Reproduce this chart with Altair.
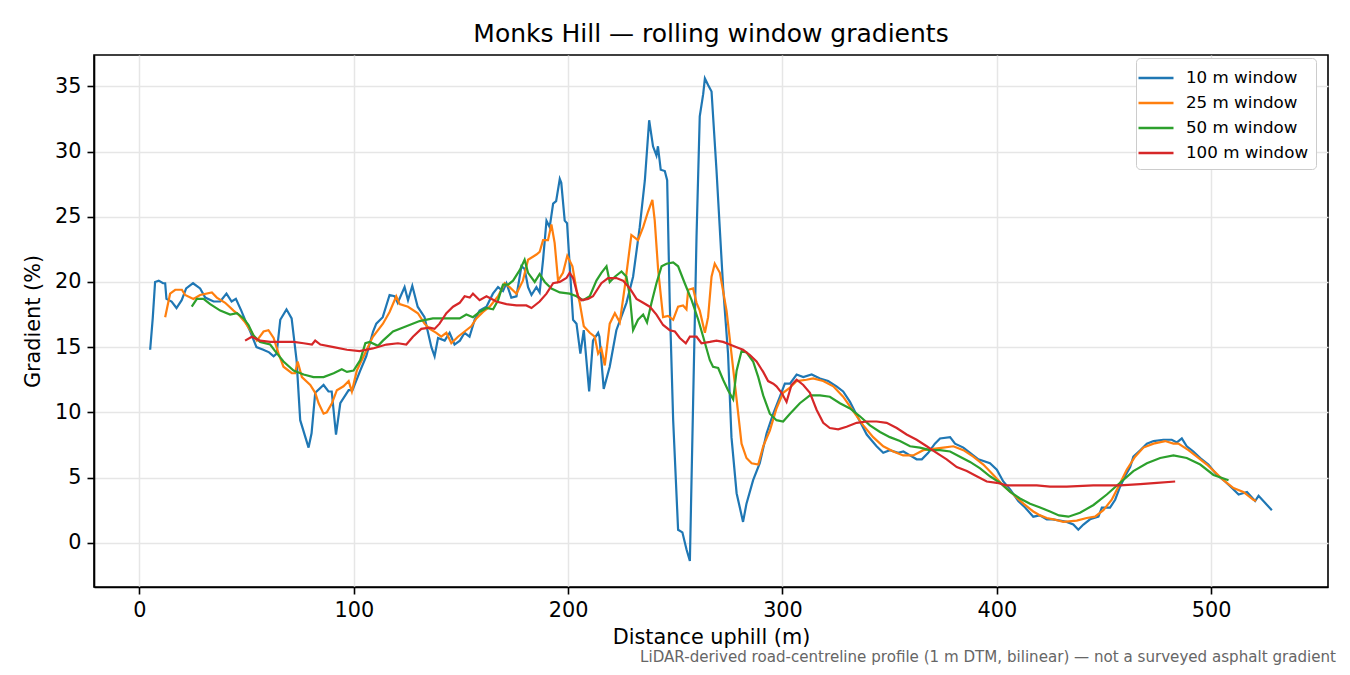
import altair as alt
import pandas as pd

# 10 m window
x10 = [5.0, 6.2, 7.3, 9.0, 11.0, 12.0, 12.6, 15.0, 17.3, 19.7, 21.8, 25.0, 28.3, 30.7, 34.6, 37.7,
       40.6, 43.0, 45.0, 47.5, 50.0, 51.7, 54.6, 57.8, 60.5, 62.6, 64.0, 65.7, 68.6, 71.0, 73.3, 75.0,
       78.9, 80.3, 82.0, 85.9, 88.2, 89.7, 91.7, 93.7, 97.6, 99.4, 103.0, 105.8, 109.0, 110.5, 113.5,
       116.7, 119.0, 120.5, 123.7, 125.3, 127.3, 129.8, 133.0, 136.2, 137.7, 139.3, 142.4, 144.7, 147.0,
       149.5, 151.7, 154.0, 156.4, 158.7, 161.9, 164.9, 167.3, 169.6, 171.2, 173.5, 175.9, 178.2, 179.7,
       181.3, 182.9, 185.2, 186.7, 188.3, 189.9, 191.4, 193.0, 194.4, 196.1, 196.8, 198.4, 199.5, 202.3,
       203.9, 205.7, 207.3, 209.8, 211.6, 214.0, 214.6, 216.6, 219.4, 222.5, 227.2, 230.3, 233.4, 235.8,
       237.8, 239.6, 241.2, 241.9, 243.2, 245.1, 246.2, 247.4, 249.0, 251.3, 253.3, 255.2, 256.8, 258.3,
       259.9, 261.4, 263.0, 263.8, 265.3, 266.9, 269.2, 272.3, 274.6, 276.2, 278.6, 281.6, 283.2, 286.3,
       289.4, 292.6, 295.7, 298.8, 301.1, 303.5, 306.6, 309.7, 313.6, 317.5, 321.3, 325.2, 328.3, 331.5,
       334.6, 339.3, 343.9, 347.0, 350.1, 354.0, 356.4, 359.5, 362.6, 365.0, 368.0, 371.1, 373.5, 378.2,
       380.5, 384.4, 387.5, 391.4, 396.8, 400.0, 403.0, 406.2, 410.0, 413.2, 417.0, 420.0, 423.3, 426.0,
       429.5, 432.6, 435.7, 438.0, 440.4, 443.5, 447.4, 449.0, 452.8, 455.2, 457.5, 459.8, 462.2, 463.7,
       466.9, 470.0, 473.1, 477.7, 481.6, 484.0, 486.3, 488.6, 491.7, 494.9, 498.7, 502.7, 506.5, 509.7,
       512.8, 516.7, 520.5, 522.1, 528.3]
y10 = [14.8, 17.2, 20.0, 20.1, 19.9, 19.9, 18.7, 18.5, 18.0, 18.6, 19.5, 19.9, 19.5, 18.8, 18.5, 18.5,
       19.1, 18.5, 18.7, 17.8, 16.8, 16.2, 15.0, 14.8, 14.6, 14.3, 14.5, 17.1, 17.9, 17.2, 14.0, 9.4,
       7.3, 8.4, 11.5, 12.1, 11.6, 11.6, 8.3, 10.7, 11.7, 11.7, 13.2, 14.3, 16.2, 16.8, 17.3,
       19.0, 18.9, 18.4, 19.6, 18.6, 19.7, 18.1, 17.3, 15.0, 14.3, 15.7, 15.5, 16.1, 15.2,
       15.5, 16.1, 15.8, 17.1, 17.8, 18.1, 19.1, 19.6, 19.3, 19.9, 18.8, 18.9, 21.2, 21.0,
       19.6, 19.0, 19.6, 19.2, 21.7, 24.7, 24.2, 26.0, 26.2, 27.9, 27.6, 24.7, 24.5, 17.1,
       16.8, 14.5, 16.3, 11.6, 15.5, 16.1, 15.8, 11.8, 13.5, 16.3, 18.4, 20.4, 24.2, 27.8,
       32.4, 30.4, 29.7, 30.4, 28.6, 28.5, 27.8, 18.4, 9.4, 1.0, 0.8, -0.5, -1.4, 10.7,
       23.5, 32.7, 34.4, 35.6, 35.1, 34.6, 28.6, 19.6, 14.5, 8.1, 3.8, 1.6, 3.0, 4.8,
       6.1, 8.4, 9.9, 11.2, 12.2, 12.2, 12.9, 12.7, 12.9, 12.6, 12.4, 12.0, 11.6, 10.8,
       9.8, 8.3, 7.4, 6.9, 7.1, 6.9, 7.0, 6.7, 6.4, 6.4, 6.9, 7.6, 8.0, 8.1,
       7.6, 7.3, 6.9, 6.4, 6.1, 5.6, 4.7, 4.1, 3.2, 2.7, 2.0, 2.1, 1.8, 1.8,
       1.7, 1.6, 1.4, 1.0, 1.4, 1.8, 2.0, 2.7, 2.7, 3.3, 4.3, 5.1, 5.8, 6.6,
       7.1, 7.6, 7.8, 7.9, 7.9, 7.7, 8.0, 7.4, 7.0, 6.5, 6.0, 5.2, 4.7, 4.2,
       3.7, 3.9, 3.2, 3.6, 2.5]

# 25 m window
x25 = [12.0, 14.3, 16.7, 19.8, 21.3, 25.2, 28.3, 33.8, 36.1, 40.0, 43.9, 46.2, 49.3, 51.7, 54.8, 57.9,
       60.2, 62.6, 64.9, 67.2, 71.1, 72.6, 73.8, 75.8, 79.7, 82.0, 83.6, 85.9, 87.4, 89.8, 92.1, 95.2,
       97.6, 99.1, 101.4, 104.6, 107.7, 108.9, 113.6, 116.7, 119.8, 121.4, 125.3, 129.9, 133.0, 135.4,
       138.5, 140.8, 143.2, 145.5, 148.6, 151.7, 154.8, 157.2, 160.3, 163.4, 167.3, 170.4, 172.7, 175.9,
       178.9, 181.3, 185.2, 186.7, 188.3, 190.6, 192.2, 193.7, 195.3, 197.6, 199.6, 202.0, 203.9, 205.4,
       207.3, 210.1, 212.4, 214.0, 215.5, 217.1, 219.4, 221.8, 224.1, 226.4, 229.5, 232.6, 235.0, 237.3,
       239.3, 240.4, 242.0, 244.3, 246.6, 249.0, 251.3, 253.6, 255.2, 256.0, 258.3, 259.9, 261.4, 263.8,
       265.3, 266.9, 268.4, 270.8, 273.9, 276.2, 278.6, 280.9, 283.2, 285.6, 288.7, 291.0, 294.1, 297.2,
       300.3, 303.5, 306.6, 311.2, 314.3, 319.0, 323.7, 328.3, 333.0, 337.7, 342.3, 347.0, 351.7, 356.3,
       361.0, 365.7, 370.4, 375.0, 379.7, 384.4, 389.0, 393.7, 398.4, 403.0, 407.7, 412.4, 417.0, 420.2,
       423.3, 426.4, 431.0, 437.3, 441.9, 445.8, 449.7, 453.6, 456.7, 460.6, 464.5, 468.4, 473.1, 478.5,
       482.4, 484.7, 489.4, 493.3, 498.0, 501.9, 505.7, 510.4, 515.0, 519.7, 521.0]
y25 = [17.3, 19.1, 19.4, 19.4, 19.0, 18.7, 19.0, 19.2, 18.8, 18.4, 17.8, 17.5, 16.9, 16.3, 15.5, 16.2,
       16.3, 15.7, 14.5, 13.5, 13.0, 13.0, 13.9, 12.7, 12.1, 11.5, 10.7, 9.9, 10.0, 10.7, 11.7, 12.0,
       12.4, 11.6, 13.2, 14.3, 15.4, 15.8, 16.8, 17.7, 18.9, 18.3, 18.1, 17.6, 16.8, 16.4,
       16.1, 15.8, 16.1, 15.3, 15.8, 16.2, 16.6, 17.2, 17.7, 18.1, 18.9, 19.9, 19.6, 19.1,
       20.1, 21.7, 22.1, 22.3, 23.2, 23.2, 24.4, 23.0, 20.1, 20.7, 22.0, 21.2, 19.4, 18.4,
       16.6, 16.1, 15.8, 14.5, 14.9, 13.6, 16.8, 17.6, 16.9, 19.6, 23.6, 23.2, 24.2, 25.4,
       26.3, 24.7, 20.9, 17.3, 17.4, 17.1, 18.1, 18.2, 17.9, 19.4, 19.5, 18.4, 17.8, 16.1,
       17.3, 20.4, 21.4, 20.7, 17.8, 14.5, 11.0, 7.6, 6.5, 6.1, 6.0, 7.4, 8.6, 10.3,
       11.5, 11.9, 12.4, 12.5, 12.6, 12.4, 12.0, 11.2, 10.1, 9.0, 8.1, 7.4, 7.0, 6.7,
       6.7, 7.1, 7.2, 7.3, 7.4, 7.1, 6.6, 6.0, 5.2, 4.4, 3.7, 3.0, 2.4, 2.1,
       1.9, 1.8, 1.6, 1.7, 1.9, 2.0, 2.5, 3.3, 4.3, 5.6, 6.6, 7.3, 7.6, 7.8,
       7.6, 7.6, 7.1, 6.6, 6.0, 5.4, 4.8, 4.2, 3.9, 3.3, 3.2]

# 50 m window
x50 = [24.4, 26.8, 29.9, 33.0, 37.7, 42.3, 45.5, 48.6, 50.9, 53.2, 56.3, 61.0, 63.3, 67.2, 71.9, 76.6,
       81.2, 85.9, 90.6, 94.4, 96.8, 99.9, 103.0, 105.4, 107.4, 111.3, 113.6, 118.3, 124.5, 130.7, 136.9,
       143.2, 149.4, 152.5, 155.6, 158.7, 161.9, 165.0, 167.3, 169.6, 172.0, 174.3, 177.4, 179.7, 181.3,
       184.4, 186.7, 189.1, 192.2, 196.1, 200.7, 203.9, 207.0, 210.1, 213.2, 215.5, 217.9, 219.4, 221.8,
       224.9, 227.2, 228.8, 230.3, 232.6, 235.0, 236.8, 238.9, 241.2, 243.6, 245.9, 249.0, 251.3, 254.4,
       257.6, 260.7, 263.0, 266.1, 267.6, 270.0, 272.3, 274.6, 277.0, 278.6, 280.9, 283.2, 286.3, 288.7,
       291.0, 294.1, 297.2, 300.3, 303.5, 308.1, 312.8, 317.5, 322.1, 326.8, 331.5, 336.1, 340.8, 345.5,
       350.1, 354.8, 359.5, 364.1, 368.8, 373.5, 378.2, 382.8, 387.5, 392.2, 396.8, 401.5, 406.2, 410.8,
       415.5, 420.2, 424.8, 429.0, 433.4, 438.8, 445.1, 451.3, 457.5, 463.7, 470.0, 476.2, 482.4, 488.6,
       494.9, 501.1, 508.1]
y50 = [18.1, 18.7, 18.7, 18.3, 17.8, 17.5, 17.6, 17.2, 16.7, 15.9, 15.4, 15.2, 14.7, 13.9, 13.2, 12.9,
       12.7, 12.7, 13.0, 13.3, 13.1, 13.2, 14.0, 15.3, 15.4, 15.1, 15.5, 16.2, 16.6, 17.0, 17.2,
       17.2, 17.2, 17.5, 17.3, 17.7, 18.0, 17.9, 18.6, 19.8, 19.8, 20.1, 20.9, 21.7, 20.7,
       20.0, 20.6, 20.0, 19.5, 19.2, 19.1, 18.9, 18.6, 18.9, 20.1, 20.7, 21.2, 20.0, 20.4,
       20.8, 20.4, 18.9, 16.3, 17.1, 17.5, 16.9, 18.4, 19.9, 21.2, 21.4, 21.5, 21.2, 19.9,
       18.6, 17.1, 15.8, 14.0, 13.5, 13.4, 12.5, 11.7, 11.0, 13.2, 14.7, 14.6, 13.9, 12.7,
       11.3, 9.9, 9.4, 9.3, 9.9, 10.7, 11.3, 11.3, 11.2, 10.7, 10.3, 9.7, 9.0, 8.5,
       8.1, 7.8, 7.4, 7.3, 7.1, 7.1, 7.0, 6.6, 6.2, 5.7, 5.1, 4.6, 3.9, 3.4,
       3.0, 2.7, 2.4, 2.1, 2.0, 2.3, 2.9, 3.7, 4.6, 5.5, 6.1, 6.5, 6.7, 6.5,
       6.0, 5.2, 4.8]

# 100 m window
x100 = [49.3, 52.4, 56.3, 61.0, 65.7, 71.9, 76.6, 80.5, 82.0, 84.4, 90.6, 96.8, 102.7, 108.9, 115.2,
        120.6, 124.5, 127.6, 131.5, 135.4, 137.7, 140.0, 143.2, 146.3, 149.4, 151.7, 154.1, 155.6, 158.7,
        161.9, 166.5, 171.2, 175.9, 180.5, 182.9, 186.7, 189.9, 193.0, 196.1, 199.2, 200.7, 202.3, 204.6,
        206.2, 209.3, 211.6, 215.5, 218.6, 222.5, 225.6, 228.8, 231.9, 235.0, 238.1, 241.2, 244.3, 247.4,
        249.8, 252.1, 254.9, 256.8, 259.9, 262.2, 266.1, 269.2, 272.3, 275.4, 278.6, 281.6, 284.8, 287.9,
        291.0, 293.3, 295.7, 297.2, 299.6, 301.9, 304.2, 306.6, 309.7, 312.8, 315.9, 319.0, 322.1, 326.0,
        329.9, 334.6, 339.3, 343.9, 348.6, 353.3, 357.9, 362.6, 367.3, 371.9, 376.6, 381.3, 386.0, 390.6,
        395.3, 400.0, 404.6, 410.8, 418.6, 424.8, 432.6, 445.0, 457.5, 466.9, 474.7, 483.2]
y100 = [15.5, 15.8, 15.5, 15.4, 15.4, 15.4, 15.3, 15.2, 15.5, 15.2, 15.0, 14.8, 14.7, 14.9, 15.2,
        15.3, 15.2, 15.8, 16.4, 16.5, 16.4, 16.8, 17.6, 18.1, 18.4, 18.9, 18.8, 19.1, 18.6,
        18.9, 18.5, 18.3, 18.2, 18.2, 18.0, 18.5, 19.1, 19.9, 20.0, 20.3, 20.7, 20.3, 18.9,
        18.6, 18.7, 18.9, 19.9, 20.3, 20.3, 20.1, 19.5, 18.7, 18.4, 18.1, 17.5, 16.7, 16.3,
        16.2, 15.7, 15.3, 15.8, 15.8, 15.3, 15.4, 15.5, 15.4, 15.2, 15.0, 14.8, 14.4, 13.9,
        13.1, 12.4, 12.2, 12.0, 11.5, 10.8, 12.1, 12.5, 12.1, 11.5, 10.2, 9.2, 8.8, 8.7,
        8.9, 9.2, 9.3, 9.3, 9.2, 8.8, 8.3, 7.9, 7.4, 6.9, 6.4, 5.8, 5.5, 5.1,
        4.7, 4.6, 4.4, 4.4, 4.4, 4.3, 4.3, 4.4, 4.4, 4.5, 4.6, 4.7]

windows = ["10 m window", "25 m window", "50 m window", "100 m window"]
colors = ["#1f77b4", "#ff7f0e", "#2ca02c", "#d62728"]
note = "LiDAR-derived road-centreline profile (1 m DTM, bilinear) \u2014 not a surveyed asphalt gradient"

frames = []
for name, xs, ys in zip(windows, [x10, x25, x50, x100], [y10, y25, y50, y100]):
    frames.append(pd.DataFrame({"dist": xs, "grad": ys, "window": name}))
df = pd.concat(frames, ignore_index=True)

font = "DejaVu Sans"

lines = alt.Chart(df).mark_line(strokeWidth=2.2, clip=True).encode(
    x=alt.X("dist:Q", title="Distance uphill (m)",
            scale=alt.Scale(domain=[-21.2, 554.5], nice=False, zero=False),
            axis=alt.Axis(values=[0, 100, 200, 300, 400, 500])),
    y=alt.Y("grad:Q", title="Gradient (%)",
            scale=alt.Scale(domain=[-3.39, 37.4], nice=False, zero=False),
            axis=alt.Axis(values=[0, 5, 10, 15, 20, 25, 30, 35])),
    color=alt.Color("window:N", title=None,
                    scale=alt.Scale(domain=windows, range=colors),
                    legend=alt.Legend(orient="none", legendX=1042, legendY=3)),
    detail="window:N",
)

footnote = alt.Chart(pd.DataFrame({"note": [note]})).mark_text(
    align="right", baseline="middle", font=font, fontSize=15.1, color="#666666"
).encode(text="note:N", x=alt.value(1242), y=alt.value(602))

chart = (lines + footnote).properties(
    width=1234, height=532,
    title=alt.TitleParams("Monks Hill \u2014 rolling window gradients", font=font, fontSize=25,
                          fontWeight="normal", color="black", offset=8, anchor="middle"),
    autosize=alt.AutoSizeParams(type="none"),
    padding={"left": 86, "top": 47, "right": 14, "bottom": 80},
).configure_view(
    stroke="black", strokeWidth=1.6
).configure_axis(
    labelFont=font, titleFont=font, labelFontSize=20.8, titleFontSize=20.8,
    labelColor="black", titleColor="black", titleFontWeight="normal",
    domainColor="black", domainWidth=1.6, tickColor="black", tickWidth=1.6, tickSize=7,
    labelPadding=6, gridColor="#e6e6e6", gridWidth=1.5, titlePadding=8,
).configure_axisY(
    titlePadding=11
).configure_legend(
    labelFont=font, labelFontSize=16.7, labelColor="black",
    symbolType="M-1.5,0L1.5,0", symbolSize=544, symbolStrokeWidth=2.5,
    fillColor="white", strokeColor="#cccccc", cornerRadius=4, padding=7,
    labelOffset=17, rowPadding=3,
)

chart.save("out.html", embed_options={"renderer": "svg", "actions": False})
